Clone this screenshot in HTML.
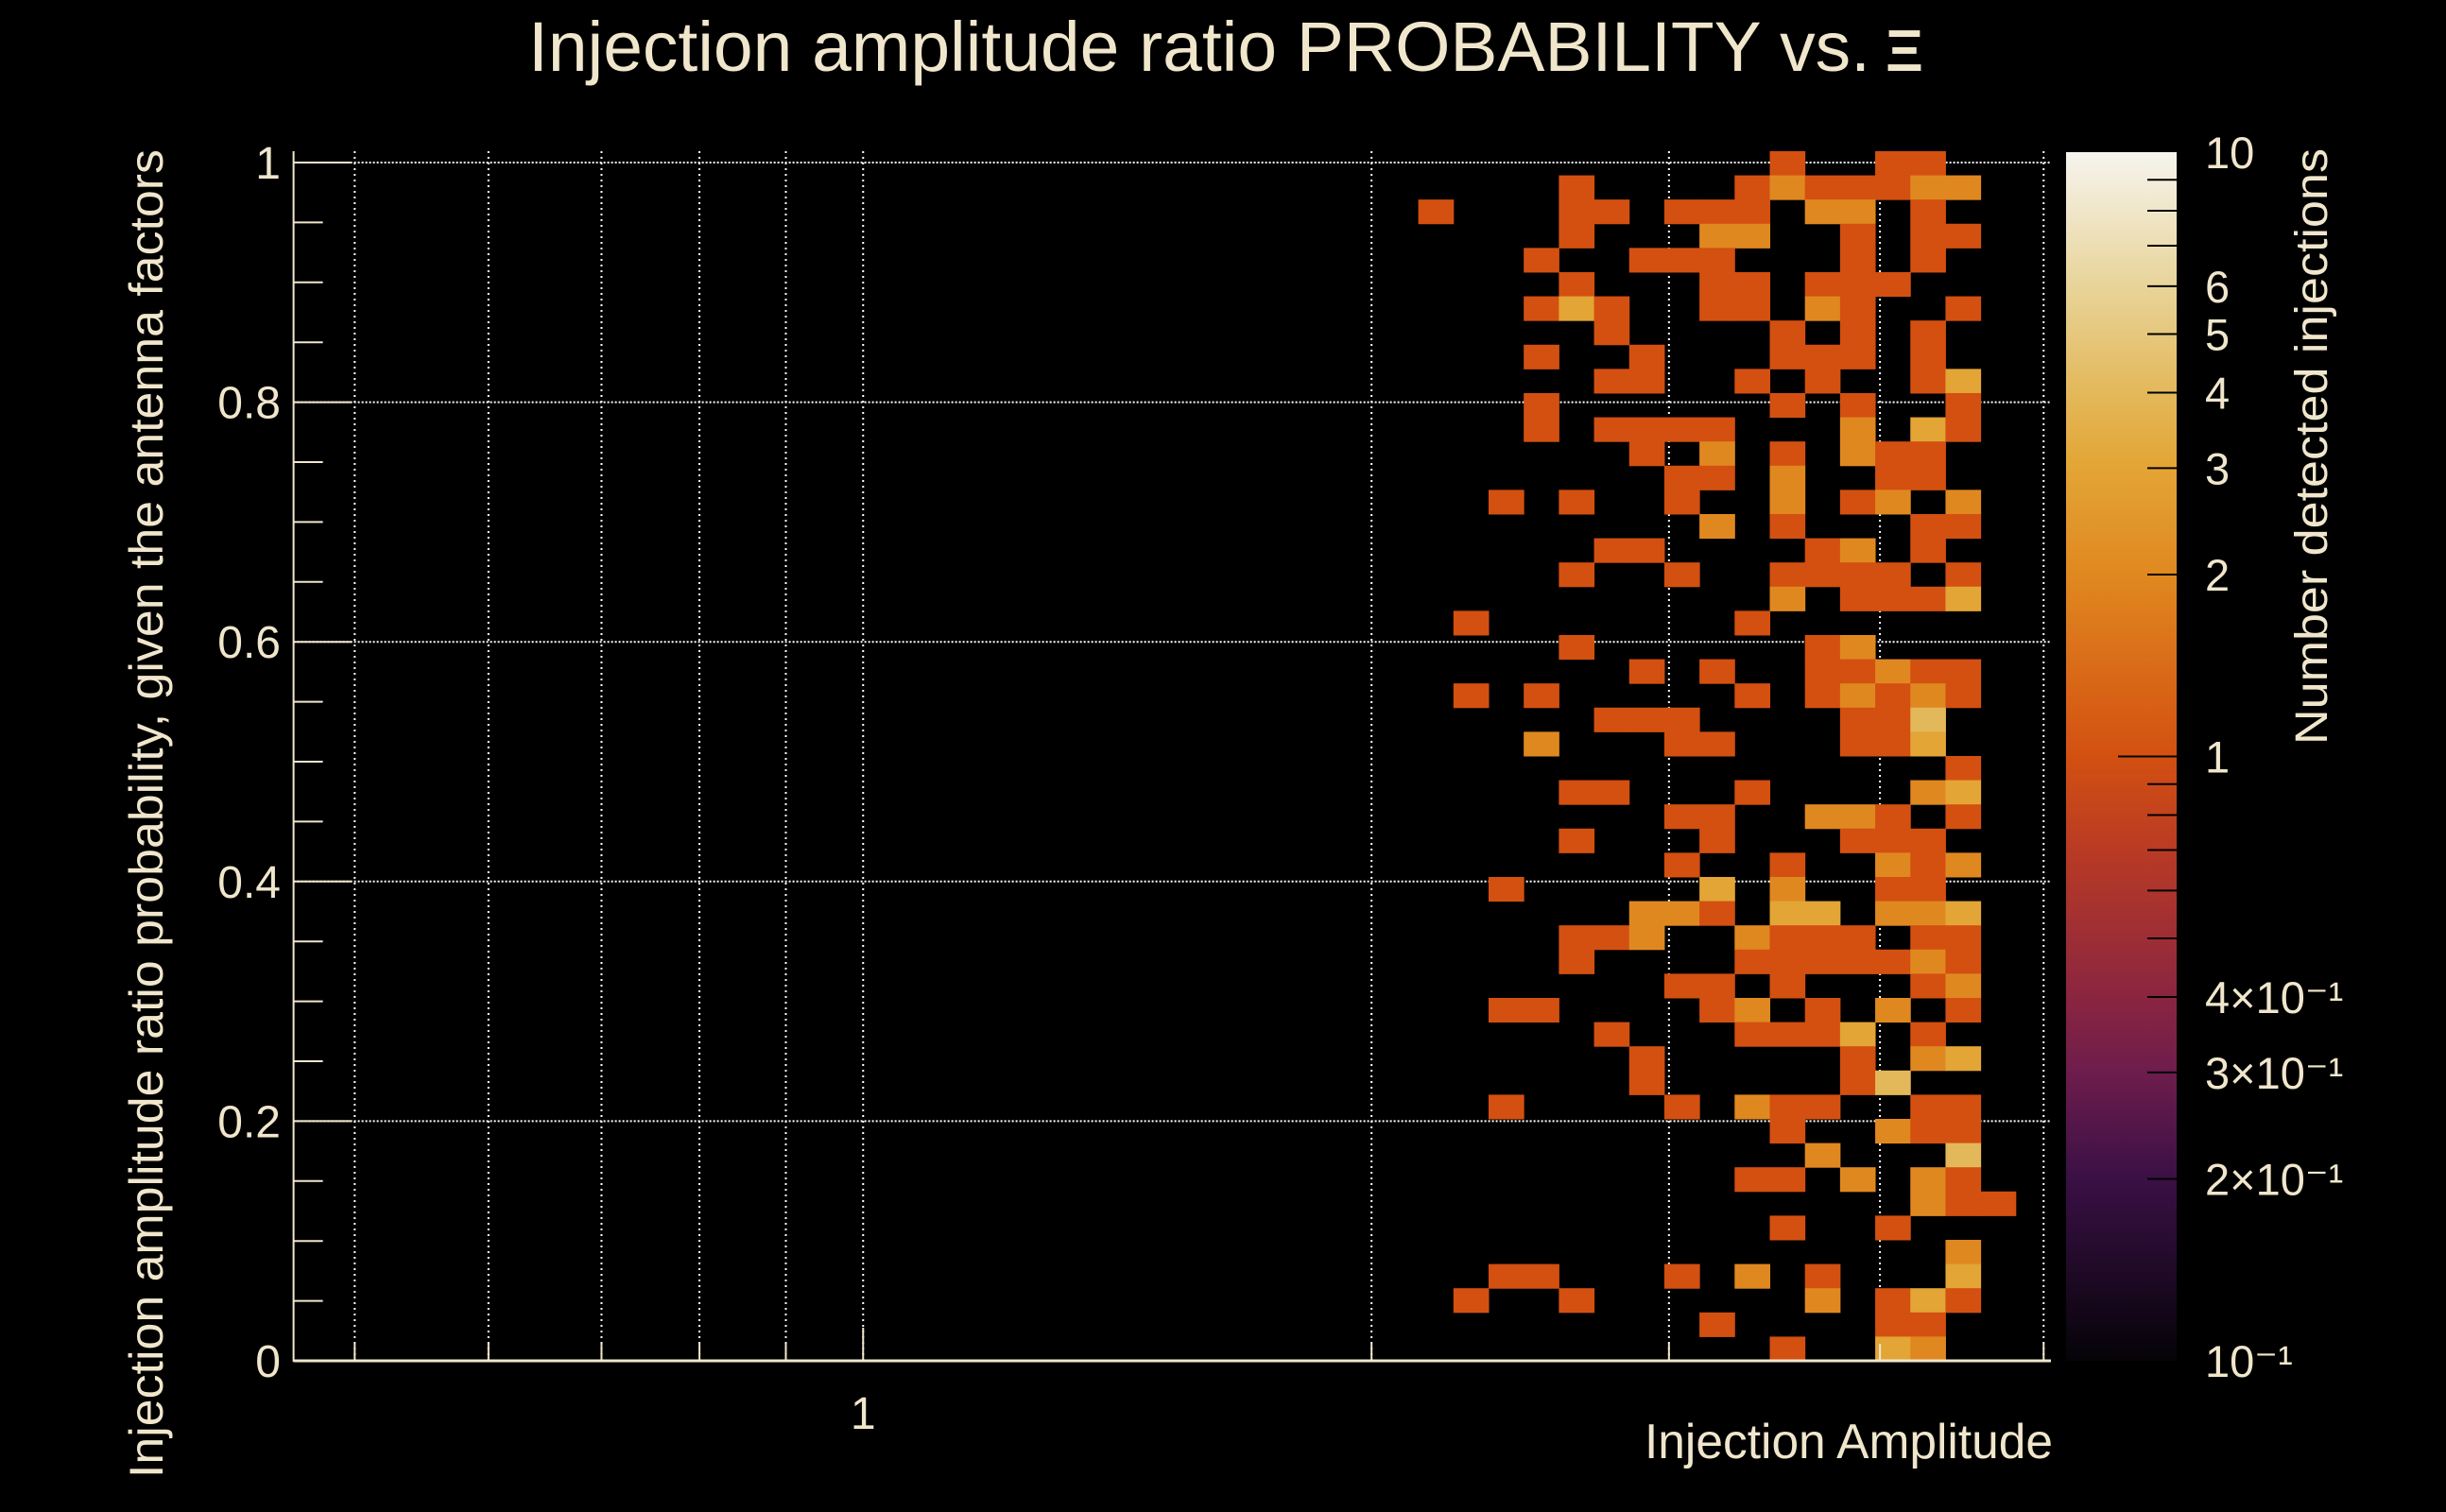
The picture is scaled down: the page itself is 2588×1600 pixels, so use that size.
<!DOCTYPE html>
<html><head><meta charset="utf-8">
<style>
html,body{margin:0;padding:0;background:#000;}
svg{display:block;}
text{font-family:"Liberation Sans","DejaVu Sans",sans-serif;fill:#F0E6CC;}
</style></head>
<body>
<svg id="chart" width="2588" height="1600" viewBox="0 0 2588 1600" xmlns="http://www.w3.org/2000/svg">
<rect x="0" y="0" width="2588" height="1600" fill="#000"/>
<text x="559" y="75" font-size="74" textLength="1420" lengthAdjust="spacingAndGlyphs">Injection amplitude ratio PROBABILITY vs.</text>
<text x="1995" y="75" font-size="62" font-family="Liberation Serif, serif" font-weight="bold">Ξ</text>
<text transform="translate(172,1564) rotate(-90)" font-size="50" textLength="1406" lengthAdjust="spacingAndGlyphs">Injection amplitude ratio probability, given the antenna factors</text>
<text x="2172" y="1543" font-size="52" text-anchor="end" textLength="432" lengthAdjust="spacingAndGlyphs">Injection Amplitude</text>
<text transform="translate(2462,788) rotate(-90)" font-size="48" textLength="631" lengthAdjust="spacingAndGlyphs">Number detected injections</text>
<defs><linearGradient id="pal" x1="0" y1="1" x2="0" y2="0"></linearGradient></defs>
<g id="grid"></g>
<g id="cells"></g>
<g id="axes"></g>
<g id="cbar"></g>
</svg>
<script>
const xMin = 0.46, xMax = 5.05, nXBins = 50;
const yMin = 0, yMax = 1.0095, nYBins = 50;
const firstCol = 32;
const counts = [
[0,0,0,0,0,0,0,0,0,0,1,0,0,1,1,0,0],
[0,0,0,0,1,0,0,0,0,1,2,1,1,1,2,2,0],
[1,0,0,0,1,1,0,1,1,1,0,2,2,0,1,0,0],
[0,0,0,0,1,0,0,0,2,2,0,0,1,0,1,1,0],
[0,0,0,1,0,0,1,1,1,0,0,0,1,0,1,0,0],
[0,0,0,0,1,0,0,0,1,1,0,1,1,1,0,0,0],
[0,0,0,1,3,1,0,0,1,1,0,2,1,0,0,1,0],
[0,0,0,0,0,1,0,0,0,0,1,0,1,0,1,0,0],
[0,0,0,1,0,0,1,0,0,0,1,1,1,0,1,0,0],
[0,0,0,0,0,1,1,0,0,1,0,1,0,0,1,3,0],
[0,0,0,1,0,0,0,0,0,0,1,0,1,0,0,1,0],
[0,0,0,1,0,1,1,1,1,0,0,0,2,0,3,1,0],
[0,0,0,0,0,0,1,0,2,0,1,0,2,1,1,0,0],
[0,0,0,0,0,0,0,1,1,0,2,0,0,1,1,0,0],
[0,0,1,0,1,0,0,1,0,0,2,0,1,2,0,2,0],
[0,0,0,0,0,0,0,0,2,0,1,0,0,0,1,1,0],
[0,0,0,0,0,1,1,0,0,0,0,1,2,0,1,0,0],
[0,0,0,0,1,0,0,1,0,0,1,1,1,1,0,1,0],
[0,0,0,0,0,0,0,0,0,0,2,0,1,1,1,3,0],
[0,1,0,0,0,0,0,0,0,1,0,0,0,0,0,0,0],
[0,0,0,0,1,0,0,0,0,0,0,1,2,0,0,0,0],
[0,0,0,0,0,0,1,0,1,0,0,1,1,2,1,1,0],
[0,1,0,1,0,0,0,0,0,1,0,1,2,1,2,1,0],
[0,0,0,0,0,1,1,1,0,0,0,0,1,1,4,0,0],
[0,0,0,2,0,0,0,1,1,0,0,0,1,1,3,0,0],
[0,0,0,0,0,0,0,0,0,0,0,0,0,0,0,1,0],
[0,0,0,0,1,1,0,0,0,1,0,0,0,0,2,3,0],
[0,0,0,0,0,0,0,1,1,0,0,2,2,1,0,1,0],
[0,0,0,0,1,0,0,0,1,0,0,0,1,1,1,0,0],
[0,0,0,0,0,0,0,1,0,0,1,0,0,2,1,2,0],
[0,0,1,0,0,0,0,0,3,0,2,0,0,1,1,0,0],
[0,0,0,0,0,0,2,2,1,0,3,3,0,2,2,3,0],
[0,0,0,0,1,1,2,0,0,2,1,1,1,0,1,1,0],
[0,0,0,0,1,0,0,0,0,1,1,1,1,1,2,1,0],
[0,0,0,0,0,0,0,1,1,0,1,0,0,0,1,2,0],
[0,0,1,1,0,0,0,0,1,2,0,1,0,2,0,1,0],
[0,0,0,0,0,1,0,0,0,1,1,1,3,0,1,0,0],
[0,0,0,0,0,0,1,0,0,0,0,0,1,0,2,3,0],
[0,0,0,0,0,0,1,0,0,0,0,0,1,4,0,0,0],
[0,0,1,0,0,0,0,1,0,2,1,1,0,0,1,1,0],
[0,0,0,0,0,0,0,0,0,0,1,0,0,2,1,1,0],
[0,0,0,0,0,0,0,0,0,0,0,2,0,0,0,4,0],
[0,0,0,0,0,0,0,0,0,1,1,0,2,0,2,1,0],
[0,0,0,0,0,0,0,0,0,0,0,0,0,0,2,1,1],
[0,0,0,0,0,0,0,0,0,0,1,0,0,1,0,0,0],
[0,0,0,0,0,0,0,0,0,0,0,0,0,0,0,2,0],
[0,0,1,1,0,0,0,1,0,2,0,1,0,0,0,3,0],
[0,1,0,0,1,0,0,0,0,0,0,2,0,1,3,1,0],
[0,0,0,0,0,0,0,0,1,0,0,0,0,1,1,0,0],
[0,0,0,0,0,0,0,0,0,0,1,0,0,3,2,0,0]
];
const yTicks = [0, 0.2, 0.4, 0.6, 0.8, 1];
const yTickLabels = ["0", "0.2", "0.4", "0.6", "0.8", "1"];
const xGridValues = [0.5, 0.6, 0.7, 0.8, 0.9, 1, 2, 3, 4, 5];
const xTickLabelValues = [1];
const cbarMin = 0.1, cbarMax = 10;
const cbarLabelValues = [10, 6, 5, 4, 3, 2, 1, 0.4, 0.3, 0.2, 0.1];
const cbarLabelTexts = ["10", "6", "5", "4", "3", "2", "1", "4×10⁻¹", "3×10⁻¹", "2×10⁻¹", "10⁻¹"];
const cbarMinorValues = [9, 8, 7, 6, 5, 4, 3, 2, 0.9, 0.8, 0.7, 0.6, 0.5, 0.4, 0.3, 0.2];

const PL = 310.6, PR = 2170, PB = 1440, PT = 160;
const Y0 = 1440, YPX = 1268;
const lx0 = Math.log10(xMin), lx1 = Math.log10(xMax);
function xScale(v){ return PL + (Math.log10(v) - lx0) / (lx1 - lx0) * (PR - PL); }
function yScale(v){ return Y0 - v * YPX; }
function xEdge(i){ return Math.pow(10, lx0 + i * (lx1 - lx0) / nXBins); }
function yEdge(j){ return yMin + j * (yMax - yMin) / nYBins; }
const CB_L = 2186, CB_R = 2303, CB_T = 161, CB_B = 1440;
function cScale(v){ return CB_B - (Math.log10(v) - Math.log10(cbarMin)) / (Math.log10(cbarMax) - Math.log10(cbarMin)) * (CB_B - CB_T); }

const stops = [[0,"#050308"],[0.15,"#3A1045"],[0.24,"#6E1D4C"],[0.30,"#8A2540"],[0.42,"#B83A25"],[0.5,"#D35011"],[0.65,"#E08820"],[0.74,"#E3A535"],[0.80,"#E3B85A"],[0.89,"#E8D49A"],[1,"#F6F4EE"]];
function hex(c){ return [1,3,5].map(i=>parseInt(c.substr(i,2),16)); }
function color(v){
  let t = (Math.log10(v) - Math.log10(cbarMin)) / (Math.log10(cbarMax) - Math.log10(cbarMin));
  t = Math.max(0, Math.min(1, t));
  for (let i = 1; i < stops.length; i++){
    if (t <= stops[i][0]){
      const a = hex(stops[i-1][1]), b = hex(stops[i][1]);
      const f = (t - stops[i-1][0]) / (stops[i][0] - stops[i-1][0]);
      return "rgb(" + a.map((x,k)=>Math.round(x + (b[k]-x)*f)).join(",") + ")";
    }
  }
  return stops[stops.length-1][1];
}

const NS = "http://www.w3.org/2000/svg";
function mk(tag, attrs, parent){
  const e = document.createElementNS(NS, tag);
  for (const k in attrs) e.setAttribute(k, attrs[k]);
  parent.appendChild(e);
  return e;
}
const gGrid = document.getElementById("grid");
const gCells = document.getElementById("cells");
const gAxes = document.getElementById("axes");
const gCbar = document.getElementById("cbar");
const cream = "#F0E6CC";

xGridValues.forEach(v => {
  const x = xScale(v);
  const l = mk("line", {x1:x, x2:x, y1:PT, y2:PB, stroke:"#FFFFFF", "stroke-width":2, "stroke-dasharray":"2,4"}, gGrid);
  
  
});
yTicks.forEach(v => {
  const y = yScale(v);
  const l = mk("line", {x1:PL, x2:PR, y1:y, y2:y, stroke:"#FFFFFF", "stroke-width":2, "stroke-dasharray":"2,2"}, gGrid);
  
  
});

counts.forEach((row, r) => {
  const bin = nYBins - 1 - r;
  row.forEach((v, k) => {
    if (v <= 0) return;
    const xb = firstCol + k;
    const x0 = xScale(xEdge(xb)), x1 = xScale(xEdge(xb + 1));
    const y1 = yScale(yEdge(bin)), y0 = yScale(yEdge(bin + 1));
    const rc = mk("rect", {x:x0, y:y0, width:x1 - x0 + 0.5, height:y1 - y0 + 0.5, fill:color(v)}, gCells);
    
    
  });
});

let ax = mk("line", {x1:PL, x2:PL, y1:PT, y2:PB + 1, stroke:cream, "stroke-width":2}, gAxes);


ax = mk("line", {x1:PL, x2:PR, y1:PB, y2:PB, stroke:cream, "stroke-width":3}, gAxes);



for (let i = 0; i <= 20; i++){
  const v = i * 0.05;
  const y = yScale(v);
  const major = (i % 4 === 0);
  const t = mk("line", {x1:PL, x2:PL + (major ? 62 : 31), y1:y, y2:y, stroke:cream, "stroke-width":2}, gAxes);
  
  
}
yTicks.forEach((v, i) => {
  const t = mk("text", {x:297, y:yScale(v) + 17, "font-size":48, "text-anchor":"end"}, gAxes);
  t.textContent = yTickLabels[i];
  
  
});
xGridValues.forEach(v => {
  const x = xScale(v);
  const major = xTickLabelValues.indexOf(v) >= 0;
  const t = mk("line", {x1:x, x2:x, y1:PB, y2:PB - (major ? 35 : 18), stroke:cream, "stroke-width":2}, gAxes);
  
  
});
xTickLabelValues.forEach(v => {
  const t = mk("text", {x:xScale(v), y:1512, "font-size":48, "text-anchor":"middle"}, gAxes);
  t.textContent = String(v);
  
  
});

const grad = document.getElementById("pal");
stops.forEach(s => { mk("stop", {offset:s[0], "stop-color":s[1]}, grad); });
const bar = mk("rect", {x:CB_L, y:CB_T, width:CB_R - CB_L, height:CB_B - CB_T, fill:"url(#pal)"}, gCbar);


cbarMinorValues.forEach(v => {
  const y = cScale(v);
  const t = mk("line", {x1:CB_R - 31, x2:CB_R, y1:y, y2:y, stroke:"#000", "stroke-width":2}, gCbar);
  
  
});
{
  const y = cScale(1);
  const t = mk("line", {x1:CB_R - 62, x2:CB_R, y1:y, y2:y, stroke:"#000", "stroke-width":2}, gCbar);
  
  
}
cbarLabelValues.forEach((v, i) => {
  const t = mk("text", {x:2333, y:cScale(v) + 17, "font-size":47}, gCbar);
  t.textContent = cbarLabelTexts[i];
  
  
});
</script>
</body></html>
